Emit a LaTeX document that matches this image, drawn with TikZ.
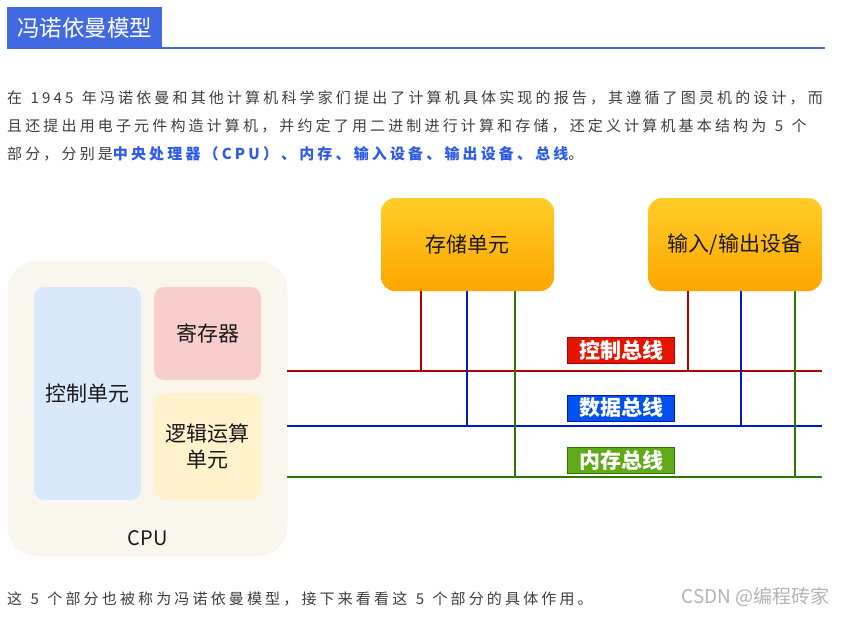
\documentclass[tikz,border=0pt]{standalone}
\usepackage{fontspec}
\setmainfont{Noto Sans CJK SC}
\newfontfamily\bodyfont[LetterSpace=21,WordSpace=1.3]{Noto Sans CJK SC}
\definecolor{hdrblue}{HTML}{4169E1}
\definecolor{bodytxt}{HTML}{3F3F3F}
\definecolor{linkblue}{HTML}{2E5BE8}
\definecolor{cpubg}{HTML}{F9F7ED}
\definecolor{ctrlbg}{HTML}{DAE8FC}
\definecolor{regbg}{HTML}{F8CECC}
\definecolor{alubg}{HTML}{FFF2CC}
\definecolor{orgtop}{HTML}{FFCD28}
\definecolor{orgbot}{HTML}{FFA500}
\definecolor{busred}{HTML}{B20000}
\definecolor{busblue}{HTML}{001DBC}
\definecolor{busgreen}{HTML}{2D7600}
\definecolor{lblred}{HTML}{E51400}
\definecolor{lblblue}{HTML}{0050EF}
\definecolor{lblgreen}{HTML}{60A917}
\definecolor{wmark}{HTML}{B4B4B4}
\tikzset{
  para/.style={anchor=west, inner sep=0pt, text=bodytxt,
    font=\bodyfont\fontsize{15}{18}\selectfont},
  inbox/.style={rounded corners=10pt, draw=none, minimum width=107pt, align=center,
    font=\fontsize{21}{26}\selectfont, text=black!90},
  orgbox/.style={rounded corners=14pt, draw=none, top color=orgtop, bottom color=orgbot,
    minimum height=93pt, font=\fontsize{21}{24}\selectfont, text=black!90},
  bus/.style={line width=2pt},
  buslabel/.style={line width=1pt, minimum width=107pt, minimum height=26pt, inner sep=0pt,
    text=white, font=\fontsize{21}{22}\selectfont\bfseries}
}
\begin{document}
\begin{tikzpicture}[x=1pt,y=-1pt]
\useasboundingbox[fill=white] (0,0) rectangle (845,616);
% header
\node[fill=hdrblue, minimum width=155pt, minimum height=41pt, inner sep=0pt, text=white,
  font=\fontsize{22.5}{24}\selectfont] (hdr) at (84.5,27.5) {冯诺依曼模型};
\coordinate (ulL) at (7,48);
\coordinate (ulR) at (825,48);
\draw[hdrblue, line width=2pt] (ulL) -- (ulR);
% paragraph
\node[para] (p1) at (7,98) {在 1945 年冯诺依曼和其他计算机科学家们提出了计算机具体实现的报告，其遵循了图灵机的设计，而};
\node[para] (p2) at (7,126) {且还提出用电子元件构造计算机，并约定了用二进制进行计算和存储，还定义计算机基本结构为 5 个};
\node[para] (p3) at (7,154) {部分，分别是\textcolor{linkblue}{\bfseries 中央处理器（CPU）、内存、输入设备、输出设备、总线}。};
% CPU
\node[rounded corners=30pt, fill=cpubg, minimum width=280pt, minimum height=296pt, inner sep=0pt] (cpu) at (147.5,408.5) {};
\node[font=\fontsize{20}{22}\selectfont, text=black!90] (cpulbl) at (147.5,538) {CPU};
\node[inbox, fill=ctrlbg, minimum height=213pt] (ctrl) at (87.5,393.5) {控制单元};
\node[inbox, fill=regbg, minimum height=93pt] (reg) at (207.5,333.5) {寄存器};
\node[inbox, fill=alubg, minimum height=107pt] (alu) at (207.5,446.5) {逻辑运算\\单元};
% top boxes
\node[orgbox, minimum width=173pt] (mem) at (467.5,244.5) {存储单元};
\node[orgbox, minimum width=174pt] (io) at (735,244.5) {输入/输出设备};
% buses
\coordinate (cL) at (287,371); \coordinate (cR) at (822,371);
\coordinate (dL) at (287,426); \coordinate (dR) at (822,426);
\coordinate (mL) at (287,477); \coordinate (mR) at (822,477);
\draw[bus, busred] (cL) -- (cR);
\draw[bus, busblue] (dL) -- (dR);
\draw[bus, busgreen] (mL) -- (mR);
% junctions
\coordinate (j1) at (421,371); \coordinate (j2) at (467,426); \coordinate (j3) at (515,477);
\coordinate (j4) at (688,371); \coordinate (j5) at (741,426); \coordinate (j6) at (795,477);
\draw[bus, busred] (j1 |- mem.south) -- (j1);
\draw[bus, busblue] (j2 |- mem.south) -- (j2);
\draw[bus, busgreen] (j3 |- mem.south) -- (j3);
\draw[bus, busred] (j4 |- io.south) -- (j4);
\draw[bus, busblue] (j5 |- io.south) -- (j5);
\draw[bus, busgreen] (j6 |- io.south) -- (j6);
% bus labels
\node[buslabel, fill=lblred, draw=busred] (cbl) at (621,350.5) {控制总线};
\node[buslabel, fill=lblblue, draw=busblue] (dbl) at (621,408) {数据总线};
\node[buslabel, fill=lblgreen, draw=busgreen] (mbl) at (621,460.5) {内存总线};
% bottom
\node[para] (p4) at (7,599) {这 5 个部分也被称为冯诺依曼模型，接下来看看这 5 个部分的具体作用。};
\node[anchor=east, inner sep=0pt, text=wmark, font=\fontsize{19}{20}\selectfont] (wm) at (830,597) {CSDN @编程砖家};
\end{tikzpicture}
\end{document}
